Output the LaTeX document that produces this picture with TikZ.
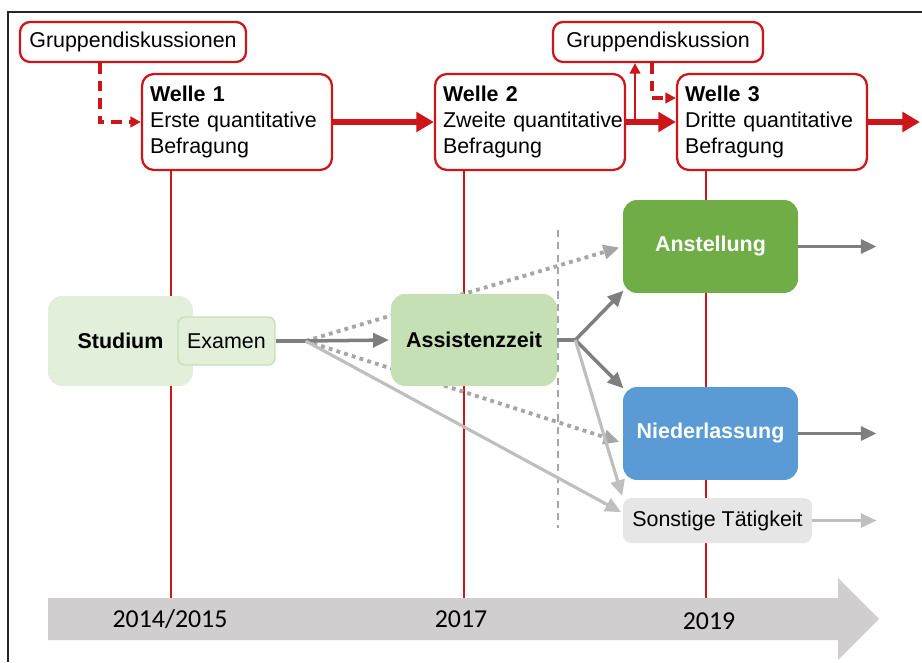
\documentclass[tikz,border=0pt]{standalone}
\usepackage{fontspec}
\setmainfont{Liberation Sans}
\newfontfamily\yearfont{Carlito}
\usetikzlibrary{arrows.meta, calc}

\definecolor{dred}{RGB}{204,22,26}
\definecolor{lgreen}{RGB}{226,239,218}
\definecolor{mgreen}{RGB}{197,224,180}
\definecolor{sgreen}{RGB}{112,173,71}
\definecolor{sblue}{RGB}{91,155,213}
\definecolor{lgray}{RGB}{231,230,230}
\definecolor{tlgray}{RGB}{208,206,206}
\definecolor{agray}{RGB}{127,127,127}
\definecolor{bgray}{RGB}{191,191,191}
\definecolor{cgray}{RGB}{166,166,166}

\pgfdeclarelayer{bg}
\pgfsetlayers{bg,main}

\begin{document}
\begin{tikzpicture}[x=0.02cm, y=-0.02cm,
  txt/.style={font=\fontsize{12.2}{14.6}\selectfont},
  welle/.style={txt, draw=dred, line width=1.3pt, rounded corners=0.24cm, fill=white,
    minimum width=3.8cm, minimum height=1.92cm, text width=3.48cm, align=left, inner xsep=0.16cm},
  gruppe/.style={txt, draw=dred, line width=1.3pt, rounded corners=0.2cm, fill=white,
    minimum height=0.8cm, inner sep=0pt},
  phase/.style={txt, rounded corners=0.28cm, inner sep=0pt},
  redarrow/.style={dred, line width=3pt, -{Triangle[length=10pt,width=11pt]}},
  reddash/.style={dred, line width=1.9pt, dash pattern=on 6pt off 4pt, -{Triangle[length=6pt,width=6pt]}},
  redup/.style={dred, line width=1.6pt, -{Triangle[length=6pt,width=6pt]}},
  redline/.style={dred, line width=1.1pt},
  darkline/.style={agray, line width=2pt},
  darkarr/.style={darkline, -{Triangle[length=9pt,width=8pt]}, shorten >=1pt},
  lightarr/.style={bgray, line width=1.8pt, -{Triangle[length=9pt,width=8pt]}, shorten >=1pt},
  dotarr/.style={cgray, line width=2.2pt, dash pattern=on 2.2pt off 2.4pt, -{Triangle[length=9pt,width=8pt]}, shorten >=2pt},
  year/.style={font=\yearfont\fontsize{14.7}{16}\selectfont, text=black}]

  \useasboundingbox (0,0) rectangle (922,662);
  \draw[line width=1.1pt, black!85] (8,662) -- (8,12) -- (922,12);

  % Zeitachse
  \coordinate (tl) at (48,598);
  \fill[tlgray] (tl) -- (838,598) -- (838,578) -- (879,619) -- (838,660) -- (838,640) -- (48,640) -- cycle;
  \node[year] (y1) at (170,619) {2014/2015};
  \node[year] (y2) at (461,619) {2017};
  \node[year] (y3) at (709,621) {2019};

  % Befragungswellen
  \node[welle] (w1) at (237,122) {\textbf{Welle 1}\\\mbox{Erste quantitative}\\Befragung};
  \node[welle] (w2) at (530,122) {\textbf{Welle 2}\\\mbox{Zweite quantitative}\\Befragung};
  \node[welle] (w3) at (772,122) {\textbf{Welle 3}\\\mbox{Dritte quantitative}\\Befragung};
  \node[gruppe, minimum width=4.52cm] (g1) at (133,42) {Gruppendiskussionen};
  \node[gruppe, minimum width=4.2cm] (g2) at (658,42) {Gruppendiskussion};

  \coordinate (wend) at (920,122);
  \draw[redarrow] (w1.east) -- (w2.west);
  \draw[redarrow] (w2.east) -- (w3.west);
  \draw[redarrow] (w3.east) -- (wend);

  \draw[reddash] ([xshift=-0.66cm]g1.south) |- (w1.west);
  \coordinate (g2a) at ([xshift=-0.46cm]g2.south);
  \coordinate (g2b) at ([xshift=-0.12cm]g2.south);
  \draw[redup] (g2a |- w2.east) -- (g2a);
  \draw[reddash] (g2b) |- ([yshift=0.48cm]w3.west);

  \begin{pgfonlayer}{bg}
    \foreach \w in {w1,w2,w3}{
      \coordinate (v) at ([xshift=0.6cm]\w.south west);
      \draw[redline] (v) -- (v |- tl);}
    \draw[cgray, line width=0.8pt, dash pattern=on 4pt off 3pt] (558,230) -- (558,528);
  \end{pgfonlayer}

  % Phasen
  \node[phase, fill=lgreen, minimum width=2.9cm, minimum height=1.8cm] (stud) at (120.5,341) {\textbf{Studium}};
  \node[phase, fill=lgreen, draw=mgreen, line width=0.8pt, rounded corners=0.14cm,
    minimum width=1.94cm, minimum height=0.96cm] (exam) at (226.5,341) {Examen};
  \node[phase, fill=mgreen, minimum width=3.32cm, minimum height=1.84cm] (asst) at (474,340) {\textbf{Assistenzzeit}};
  \node[phase, fill=sgreen, text=white, minimum width=3.5cm, minimum height=1.86cm] (anst) at (710.5,246.5) {\textbf{Anstellung}};
  \node[phase, fill=sblue, text=white, minimum width=3.5cm, minimum height=1.86cm] (nied) at (710.5,433.5) {\textbf{Niederlassung}};
  \node[phase, fill=lgray, rounded corners=0.16cm, minimum width=3.78cm, minimum height=0.9cm] (sonst) at (717.5,520.5) {Sonstige T\"atigkeit};

  % Uebergaenge
  \coordinate (b1) at ([xshift=0.6cm]exam.east);
  \coordinate (b2) at ([xshift=0.36cm]asst.east);
  \draw[darkline] (exam.east) -- (b1);
  \draw[darkarr] (b1) -- (asst.west);
  \begin{pgfonlayer}{bg}
    \draw[dotarr] (b1) -- (anst.west);
    \draw[dotarr] (b1) -- ([yshift=-0.19cm]nied.west);
  \end{pgfonlayer}
  \draw[lightarr] (b1) -- ([yshift=0.15cm]sonst.west);
  \draw[darkline] (asst.east) -- (b2);
  \draw[darkarr] (b2) -- ([shift={(0.04cm,0.08cm)}]anst.south west);
  \draw[darkarr] (b2) -- ([shift={(0.04cm,-0.06cm)}]nied.north west);
  \draw[lightarr] (b2) -- (sonst.north west);

  \coordinate (e1) at ([xshift=1.6cm]anst.east);
  \coordinate (e2) at ([xshift=1.6cm]nied.east);
  \coordinate (e3) at ([xshift=1.32cm]sonst.east);
  \draw[darkarr] (anst.east) -- (e1);
  \draw[darkarr] (nied.east) -- (e2);
  \draw[lightarr] (sonst.east) -- (e3);

\end{tikzpicture}
\end{document}
